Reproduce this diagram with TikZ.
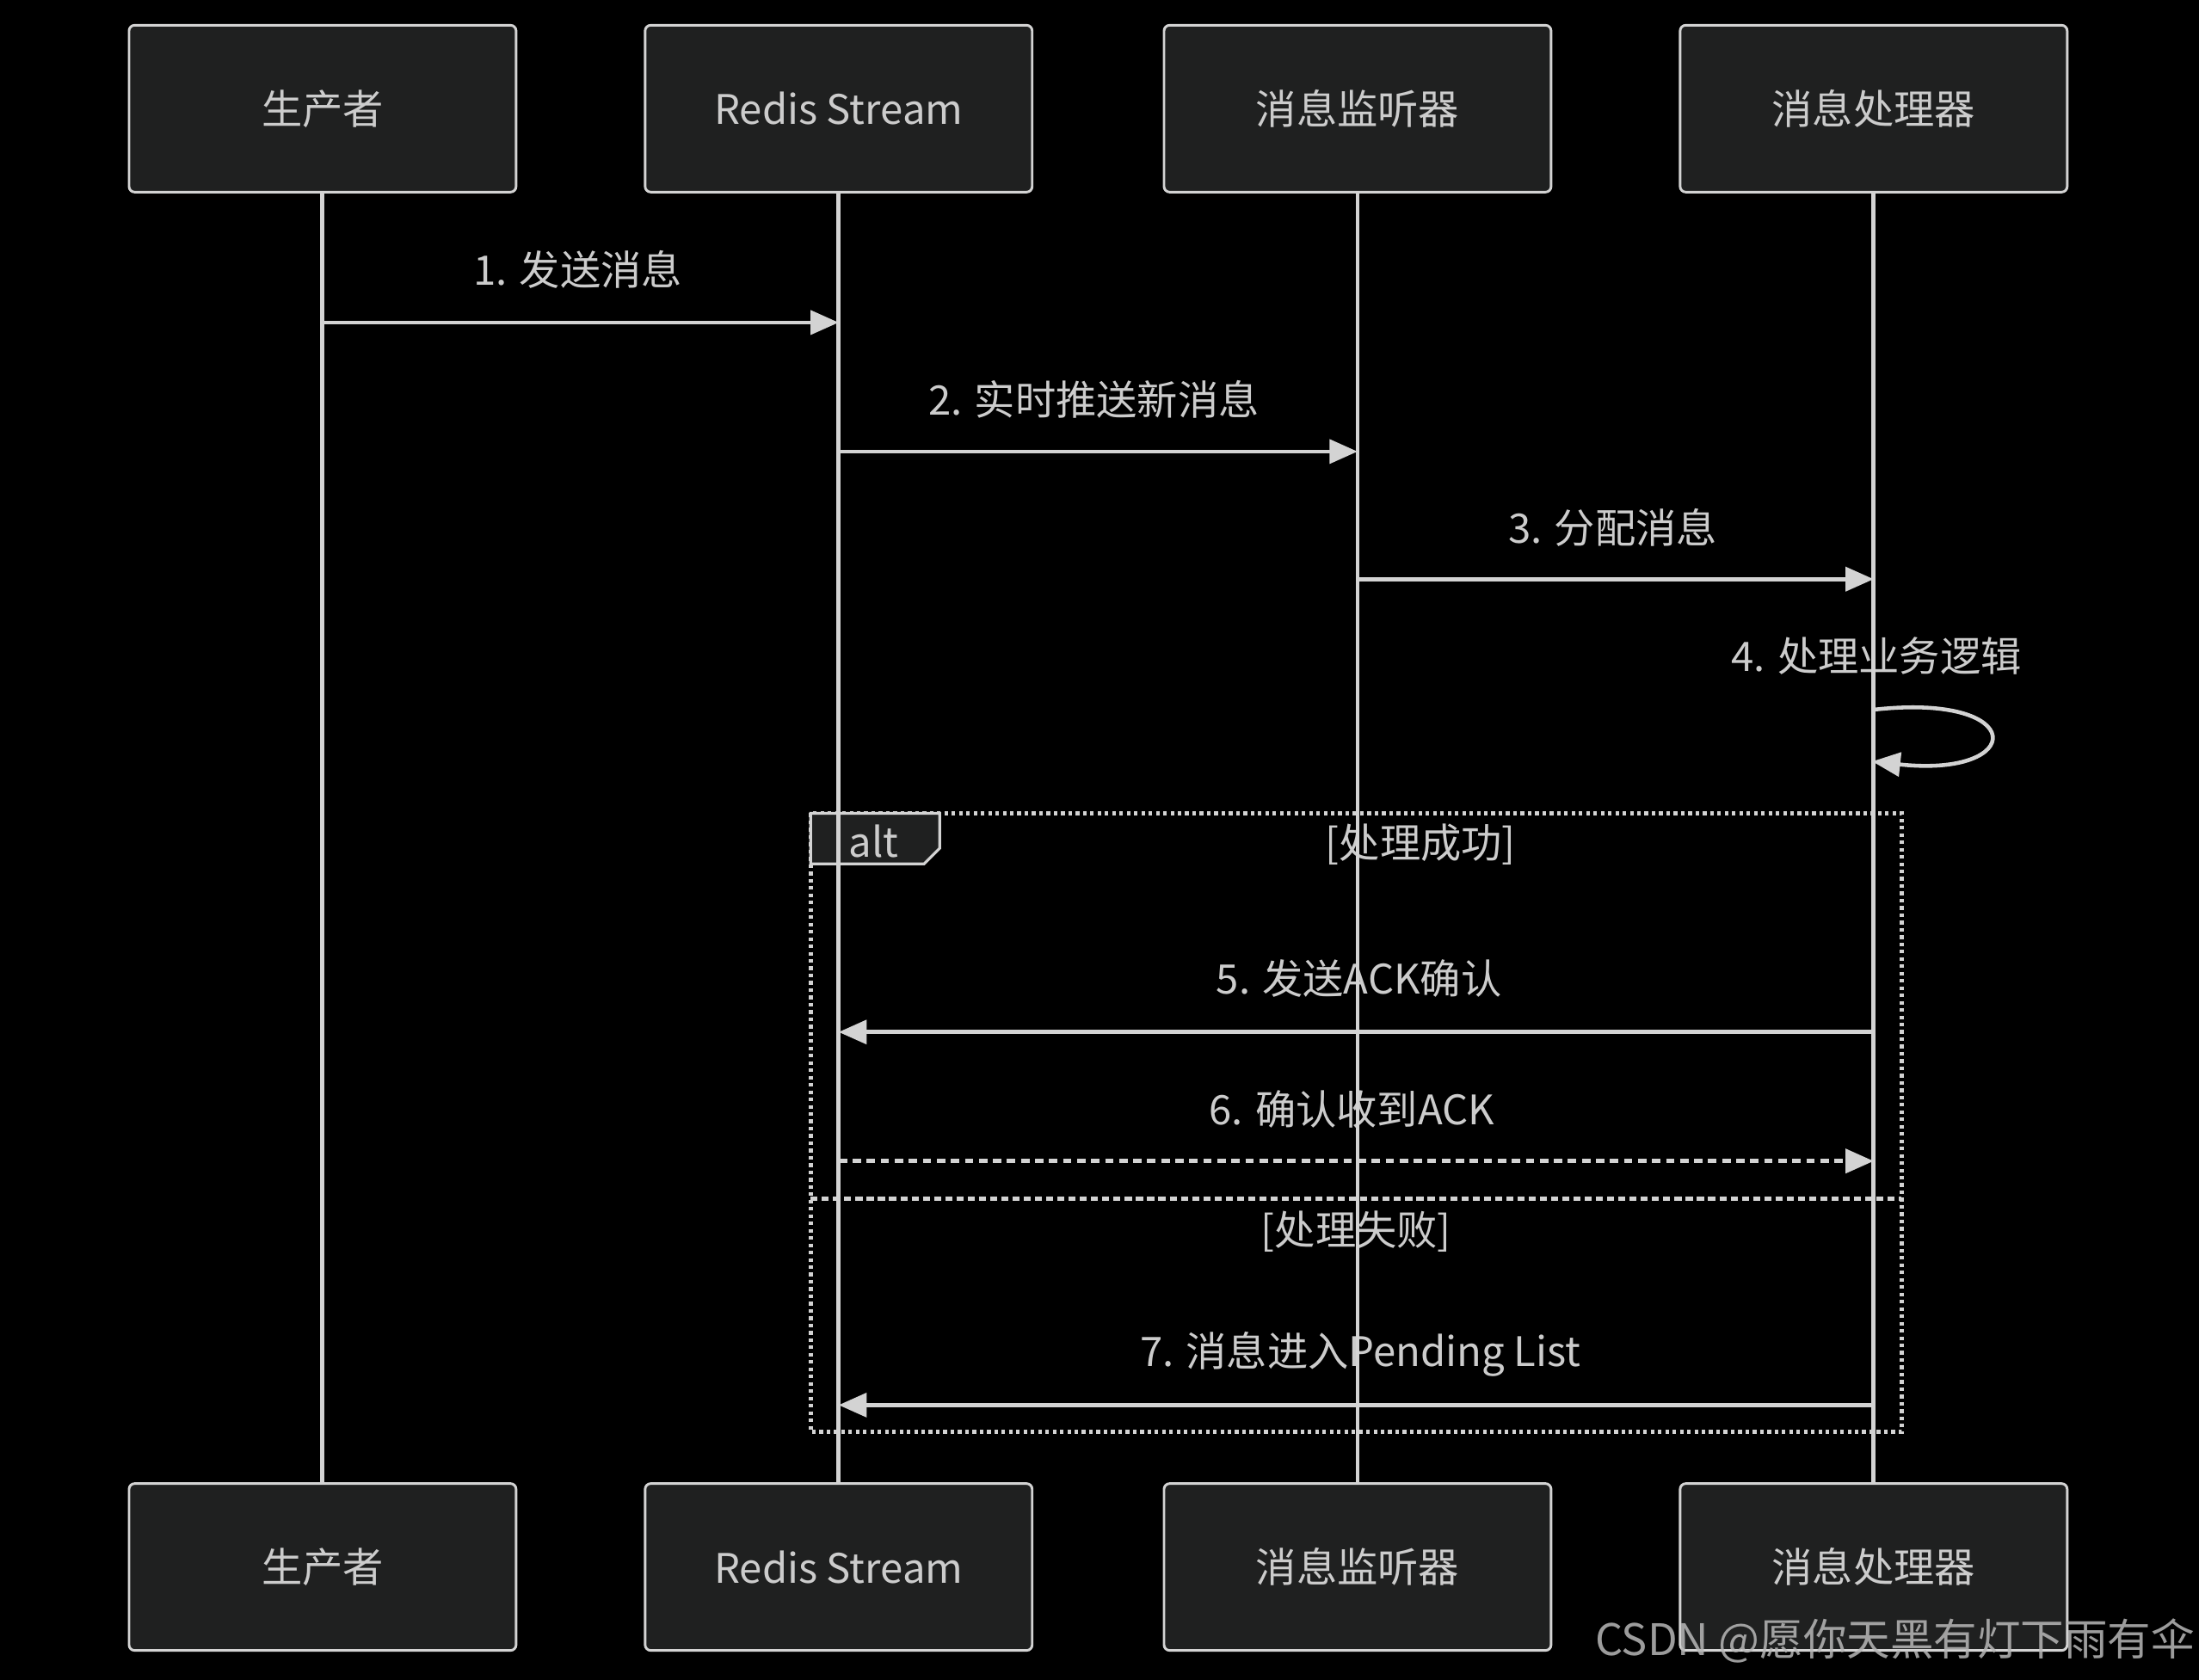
\documentclass[tikz,border=0pt]{standalone}
\usepackage{fontspec}
\setmainfont{Noto Sans CJK SC}
\usetikzlibrary{arrows.meta}
\definecolor{linec}{HTML}{D3D3D3}
\definecolor{boxfill}{HTML}{1F2020}
\definecolor{txtc}{HTML}{CCCCCC}
\definecolor{wmc}{HTML}{B8B8B8}
\tikzset{
  actor/.style={draw=linec, fill=boxfill, line width=1.8pt, rounded corners=4pt,
    minimum width=276pt, minimum height=119pt, text=txtc, inner sep=0pt,
    font=\fontsize{29}{34}\selectfont},
  life/.style={draw=linec, line width=3pt},
  msg/.style={draw=linec, line width=2.8pt, -{Triangle[length=20pt,width=17pt]}},
  dmsg/.style={msg, dash pattern=on 6pt off 4pt},
  lbl/.style={text=txtc, inner sep=0pt, font=\fontsize{29}{34}\selectfont},
  frame/.style={draw=linec, line width=3pt, dash pattern=on 2.6pt off 2.6pt},
  divider/.style={draw=linec, line width=3pt, dash pattern=on 5pt off 3pt},
}
\begin{document}
\begin{tikzpicture}[x=1pt,y=-1pt]
\fill[black] (0,0) rectangle (1568,1198);
\useasboundingbox (0,0) rectangle (1568,1198);

% alt frame
\draw[frame] (578,580) rectangle (1356,1021);
\draw[fill=boxfill, draw=linec, line width=2pt] (578,580) -- (670,580) -- (670,605) -- (659,616) -- (578,616) -- cycle;
\node[lbl] (alttxt) at (623,600) {alt};
\node[lbl] (c1) at (1013,602) {[处理成功]};
\draw[divider] (578,855) -- (1356,855);
\node[lbl] (c2) at (967,878) {[处理失败]};

% message labels
\node[lbl] (l1) at (412,192) {1. 发送消息};
\node[lbl] (l2) at (780,285) {2. 实时推送新消息};
\node[lbl] (l3) at (1150,376) {3. 分配消息};
\node[lbl] (l4) at (1338,468) {4. 处理业务逻辑};
\node[lbl] (l5) at (969,698) {5. 发送ACK确认};
\node[lbl] (l6) at (964,791) {6. 确认收到ACK};
\node[lbl] (l7) at (970,966) {7. 消息进入Pending List};

% actors
\node[actor] (a1) at (230,77.5) {生产者};
\node[actor] (a2) at (598,77.5) {Redis Stream};
\node[actor] (a3) at (968,77.5) {消息监听器};
\node[actor] (a4) at (1336,77.5) {消息处理器};
\node[actor] (b1) at (230,1117.5) {生产者};
\node[actor] (b2) at (598,1117.5) {Redis Stream};
\node[actor] (b3) at (968,1117.5) {消息监听器};
\node[actor] (b4) at (1336,1117.5) {消息处理器};

% lifelines
\draw[life] (a1.south) -- (b1.north);
\draw[life] (a2.south) -- (b2.north);
\draw[life] (a3.south) -- (b3.north);
\draw[life] (a4.south) -- (b4.north);

% message rows
\coordinate (y1) at (0,230);
\coordinate (y2) at (0,322);
\coordinate (y3) at (0,413);
\coordinate (y4a) at (0,506);
\coordinate (y4b) at (0,543);
\coordinate (y5) at (0,736);
\coordinate (y6) at (0,828);
\coordinate (y7) at (0,1002);

\draw[msg] (a1 |- y1) -- (a2 |- y1);
\draw[msg] (a2 |- y2) -- (a3 |- y2);
\draw[msg] (a3 |- y3) -- (a4 |- y3);
\coordinate (s4a) at ([xshift=1pt]a4 |- y4a);
\coordinate (s4b) at ([xshift=-1pt]a4 |- y4b);
\draw[msg] (s4a) .. controls +(110,-12) and +(110,12) .. (s4b);
\draw[msg] (a4 |- y5) -- (a2 |- y5);
\draw[dmsg] (a2 |- y6) -- (a4 |- y6);
\draw[msg] (a4 |- y7) -- (a2 |- y7);

% watermark
\node[text=wmc, opacity=0.85, inner sep=0pt, anchor=east, font=\fontsize{31}{34}\selectfont] (wm) at (1565,1170) {CSDN @愿你天黑有灯下雨有伞};
\end{tikzpicture}
\end{document}
